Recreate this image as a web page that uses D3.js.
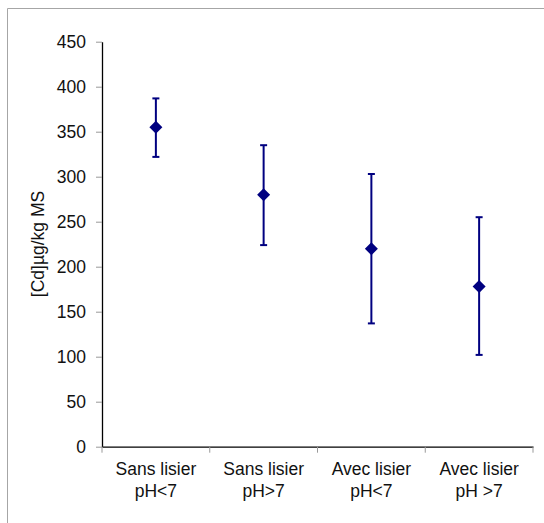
<!DOCTYPE html>
<html>
<head>
<meta charset="utf-8">
<script src="https://cdn.jsdelivr.net/npm/d3@7"></script>
<style>
  html, body { margin: 0; padding: 0; background: #fff; }
  svg { display: block; }
  text { font-family: "Liberation Sans", Arial, sans-serif; }
</style>
</head>
<body>
<svg id="chart" width="544" height="523"></svg>
<script>
const categories = [["Sans lisier", "pH<7"], ["Sans lisier", "pH>7"], ["Avec lisier", "pH<7"], ["Avec lisier", "pH >7"]];
const means = [355, 280, 220, 178];
const upper = [387, 335, 303, 255];
const lower = [322, 224, 137, 102];
const yTicks = [0, 50, 100, 150, 200, 250, 300, 350, 400, 450];
const yLabel = "[Cd]µg/kg MS";

(function () {
const svg = d3.select("#chart");
const W = 544, H = 523;
const mLeft = 102, mRight = 533, mTop = 41.7, mBottom = 446.7;
const fs = "17.5px";

// outer frame (top and left edges visible)
svg.append("path")
  .attr("d", `M7.5,${H} L7.5,8.5 L${W},8.5`)
  .attr("fill", "none").attr("stroke", "#a6a6a6").attr("stroke-width", 1);

const x = d3.scaleBand().domain(d3.range(categories.length)).range([mLeft, mRight]).padding(0);
const y = d3.scaleLinear().domain([0, 450]).range([mBottom, mTop]);

// y axis
const yAxis = svg.append("g").attr("transform", `translate(${mLeft},0)`)
  .call(d3.axisLeft(y).tickValues(yTicks).tickSize(6).tickPadding(10).tickSizeOuter(0));
yAxis.select(".domain").attr("stroke", "#000").attr("stroke-width", 1.3);
yAxis.selectAll(".tick line").attr("stroke", "#999");
yAxis.selectAll(".tick text").attr("font-size", fs).attr("fill", "#111");

// x axis
const xAxis = svg.append("g").attr("transform", `translate(0,${mBottom})`)
  .call(d3.axisBottom(x).tickValues([]).tickSizeOuter(0));
xAxis.select(".domain").attr("stroke", "#000").attr("stroke-width", 1.3);
const bounds = d3.range(categories.length + 1).map(i => i < categories.length ? x(i) : x(categories.length - 1) + x.bandwidth());
xAxis.selectAll("line.bt").data(bounds).enter().append("line")
  .attr("class", "bt")
  .attr("x1", d => d).attr("x2", d => d)
  .attr("y1", 0).attr("y2", 6)
  .attr("stroke", "#999");

// category labels
const lbl = svg.append("g");
categories.forEach((c, i) => {
  const cx = x(i) + x.bandwidth() / 2;
  const t = lbl.append("text").attr("text-anchor", "middle").attr("font-size", fs).attr("fill", "#111");
  t.append("tspan").attr("x", cx).attr("y", 474.5).text(c[0]);
  t.append("tspan").attr("x", cx).attr("y", 496.5).text(c[1]);
});

// y label
svg.append("text")
  .attr("transform", `translate(44,244) rotate(-90)`)
  .attr("text-anchor", "middle")
  .attr("font-size", fs).attr("fill", "#111")
  .text(yLabel);

// error bars
const col = "#000080";
const g = svg.append("g");
means.forEach((m, i) => {
  const cx = x(i) + x.bandwidth() / 2;
  g.append("line").attr("x1", cx).attr("x2", cx).attr("y1", y(upper[i])).attr("y2", y(lower[i]))
    .attr("stroke", col).attr("stroke-width", 2);
  [upper[i], lower[i]].forEach(v => {
    g.append("line").attr("x1", cx - 3.5).attr("x2", cx + 3.5).attr("y1", y(v)).attr("y2", y(v))
      .attr("stroke", col).attr("stroke-width", 2);
  });
});

// diamond markers
g.selectAll("path.pt").data(means).enter().append("path")
  .attr("class", "pt")
  .attr("d", (d, i) => {
    const cx = x(i) + x.bandwidth() / 2, cy = y(d), r = 6.5;
    return `M${cx},${cy - r} L${cx + r},${cy} L${cx},${cy + r} L${cx - r},${cy} Z`;
  })
  .attr("fill", col);
})();
</script>
</body>
</html>
